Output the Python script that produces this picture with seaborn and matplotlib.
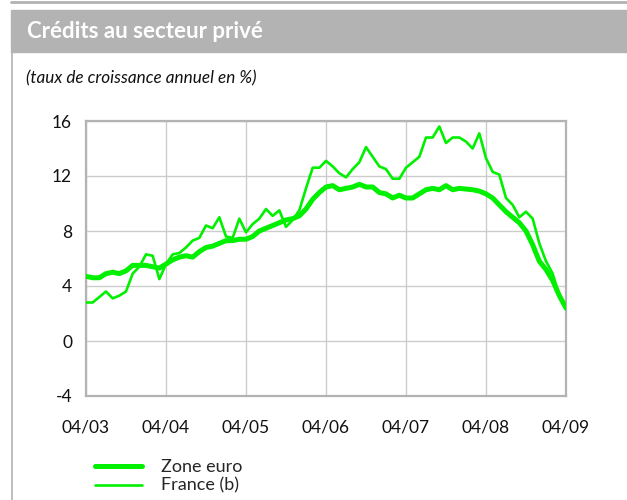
import numpy as np
import pandas as pd
import matplotlib.pyplot as plt
import seaborn as sns
from matplotlib.patches import Rectangle
from matplotlib.lines import Line2D

# Données mensuelles d'avril 2003 à avril 2009 (taux de croissance annuel en %)
mois = list(range(73))
zone_euro = [4.7, 4.6, 4.6, 4.9, 5.0, 4.9, 5.1, 5.5, 5.5, 5.5, 5.4, 5.3, 5.6, 5.9, 6.1, 6.2,
             6.1, 6.5, 6.8, 6.9, 7.1, 7.3, 7.3, 7.4, 7.4, 7.6, 8.0, 8.2, 8.4, 8.6, 8.8, 8.9,
             9.1, 9.6, 10.3, 10.8, 11.2, 11.3, 11.0, 11.1, 11.2, 11.4, 11.2, 11.2, 10.8, 10.7,
             10.4, 10.6, 10.4, 10.4, 10.7, 11.0, 11.1, 11.0, 11.3, 11.0, 11.1, 11.05, 11.0,
             10.9, 10.7, 10.4, 9.9, 9.4, 9.0, 8.6, 8.0, 7.0, 5.8, 5.2, 4.4, 3.3, 2.4]
france = [2.8, 2.8, 3.2, 3.6, 3.1, 3.3, 3.6, 4.9, 5.4, 6.3, 6.2, 4.5, 5.6, 6.3, 6.4, 6.8,
          7.3, 7.5, 8.4, 8.2, 9.0, 7.6, 7.5, 8.9, 7.9, 8.5, 8.9, 9.6, 9.1, 9.5, 8.3, 8.8,
          9.5, 11.1, 12.6, 12.6, 13.1, 12.7, 12.2, 11.9, 12.5, 13.0, 14.1, 13.4, 12.7, 12.5,
          11.8, 11.8, 12.6, 13.0, 13.4, 14.8, 14.8, 15.6, 14.4, 14.8, 14.8, 14.5, 14.0,
          15.1, 13.3, 12.3, 12.1, 10.4, 9.9, 9.0, 9.4, 8.9, 7.1, 5.8, 4.9, 3.3, 2.3]

ticks_x = [0, 12, 24, 36, 48, 60, 72]
labels_x = ["04/03", "04/04", "04/05", "04/06", "04/07", "04/08", "04/09"]
ticks_y = [-4, 0, 4, 8, 12, 16]

df = pd.DataFrame({"mois": mois, "Zone euro": zone_euro, "France (b)": france})

sns.set_style("white")
plt.rcParams['font.family'] = ['Lato', 'DejaVu Sans']

vert = '#00f000'
gris = '#b3b3b3'
W, H = 627, 500

fig = plt.figure(figsize=(6.27, 5.0), dpi=100)

# bandeau du titre + bordures
fig.patches.append(Rectangle((11 / W, 1 - 52 / H), 1 - 11 / W, 42 / H,
                             transform=fig.transFigure, color=gris, zorder=0))
fig.lines.append(Line2D([11 / W, 1], [1 - 1.5 / H, 1 - 1.5 / H], transform=fig.transFigure,
                        color=gris, lw=2))
fig.lines.append(Line2D([12 / W, 12 / W], [0, 1 - 52 / H], transform=fig.transFigure,
                        color=gris, lw=1.2))
fig.text(27 / W, 1 - 32 / H, "Crédits au secteur privé", color='white',
         fontweight='bold', fontsize=16, va='center', ha='left')
fig.text(26 / W, 1 - 78 / H, "(taux de croissance annuel en %)", style='italic',
         fontsize=12.3, va='center', ha='left', color='#111111')

ax = fig.add_axes([86 / W, 1 - 396 / H, 480 / W, 275 / H])
sns.lineplot(data=df, x="mois", y="France (b)", color=vert, lw=1.9, ax=ax,
             zorder=3, label="France (b)")
sns.lineplot(data=df, x="mois", y="Zone euro", color=vert, lw=3.6, ax=ax,
             zorder=4, label="Zone euro")

ax.set_xlim(0, 72)
ax.set_ylim(-4, 16)
ax.set_xticks(ticks_x)
ax.set_xticklabels(labels_x)
ax.set_yticks(ticks_y)
ax.set_yticklabels([str(v) for v in ticks_y])
ax.set_xlabel("")
ax.set_ylabel("")
ax.grid(True, color='#cccccc', lw=1)
ax.set_axisbelow(True)
for s in ax.spines.values():
    s.set_color(gris)
    s.set_linewidth(1.6)
ax.tick_params(axis='x', length=0, pad=17, labelsize=12.5, labelcolor='#111111')
ax.tick_params(axis='y', length=0, pad=10, labelsize=12.5, labelcolor='#111111')

handles, labels = ax.get_legend_handles_labels()
ax.legend(handles[::-1], labels[::-1], loc='upper left', frameon=False,
          bbox_to_anchor=(95 / W, 1 - 459 / H), bbox_transform=fig.transFigure,
          borderpad=0, borderaxespad=0, handlelength=2.6, handletextpad=1.05,
          labelspacing=0.15, fontsize=13)

fig.savefig("out.png", dpi=100)
